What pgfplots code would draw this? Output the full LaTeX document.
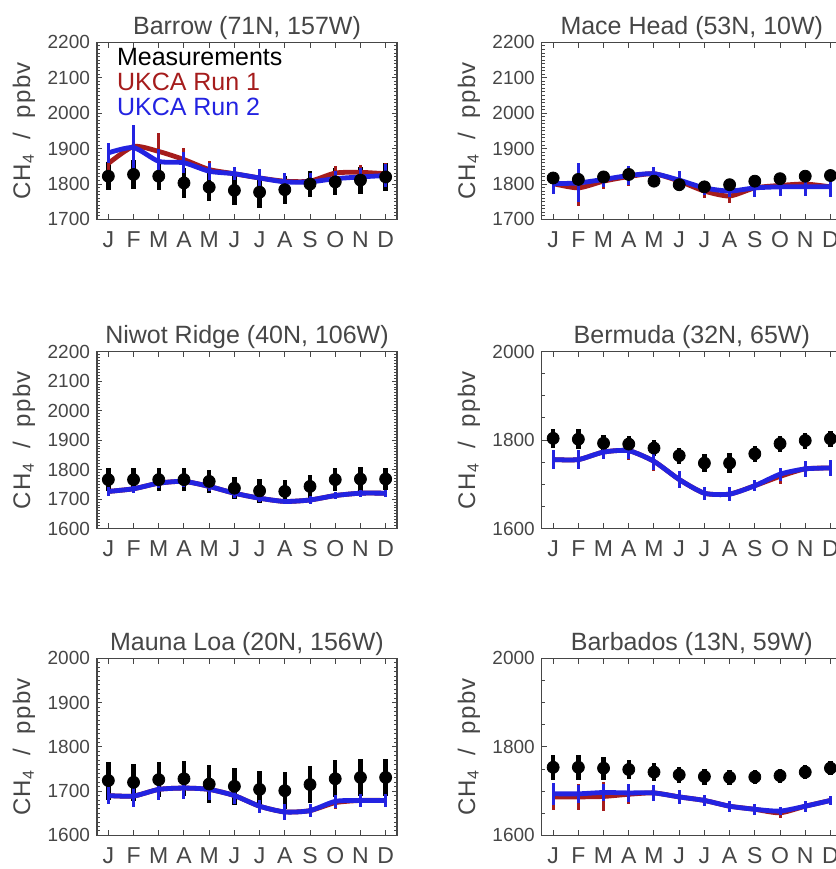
\documentclass[border=0pt]{standalone}
\usepackage{fontspec}
\setmainfont{Liberation Sans}
\usepackage{pgfplots}
\usepackage{pgfplotstable}
\pgfplotsset{compat=1.18}
\definecolor{ukred}{RGB}{165,28,28}
\definecolor{ukblue}{RGB}{35,35,225}
\definecolor{axgray}{RGB}{70,70,70}

% monthly CH4 (ppbv): observations, UKCA run 1, UKCA run 2, each with its spread
\pgfplotstableread{
m obs oe r1 r1e r2 r2e
1 1822 40 1858 30 1888 28
2 1827 40 1906 55 1903 65
3 1822 40 1892 52 1864 35
4 1803 42 1869 32 1860 30
5 1791 40 1841 24 1836 24
6 1782 42 1829 18 1829 18
7 1777 44 1817 24 1817 24
8 1784 40 1808 24 1806 24
9 1800 38 1808 24 1806 24
10 1806 38 1831 20 1815 22
11 1811 38 1833 22 1820 24
12 1820 40 1829 30 1824 32
}\barrow
\pgfplotstableread{
m obs oe r1 r1e r2 r2e
1 1817 13 1801 30 1801 30
2 1813 13 1789 50 1803 55
3 1820 13 1808 22 1813 22
4 1827 13 1821 28 1824 28
5 1808 13 1829 20 1829 20
6 1798 13 1808 25 1811 25
7 1792 13 1780 20 1789 20
8 1798 13 1766 20 1780 18
9 1808 13 1789 25 1789 25
10 1815 13 1796 25 1792 25
11 1822 13 1800 25 1792 25
12 1824 13 1792 30 1792 30
}\macehead
\pgfplotstableread{
m obs oe r1 r1e r2 r2e
1 1766 40 1726 15 1726 15
2 1766 38 1735 15 1735 15
3 1766 38 1754 18 1754 18
4 1766 38 1760 18 1760 18
5 1760 38 1743 15 1743 15
6 1737 38 1720 15 1720 15
7 1728 40 1703 12 1703 12
8 1726 40 1692 10 1692 10
9 1743 40 1697 12 1697 12
10 1766 40 1712 12 1712 12
11 1768 40 1720 12 1720 12
12 1768 38 1720 12 1720 12
}\niwot
\pgfplotstableread{
m obs oe r1 r1e r2 r2e
1 1804 22 1756 22 1756 22
2 1802 22 1756 22 1756 22
3 1793 18 1773 15 1773 15
4 1791 18 1776 20 1776 18
5 1782 18 1752 22 1752 20
6 1765 18 1711 20 1711 20
7 1748 20 1680 15 1680 15
8 1748 22 1678 15 1678 15
9 1769 18 1697 12 1697 12
10 1792 18 1718 18 1723 15
11 1799 18 1735 18 1735 18
12 1803 18 1737 18 1737 18
}\bermuda
\pgfplotstableread{
m obs oe r1 r1e r2 r2e
1 1724 43 1690 20 1690 20
2 1720 42 1689 25 1689 25
3 1726 40 1704 25 1704 25
4 1728 40 1707 25 1707 25
5 1716 42 1704 25 1704 25
6 1711 42 1690 18 1690 18
7 1704 42 1666 15 1666 15
8 1701 42 1653 18 1653 18
9 1715 42 1656 15 1656 15
10 1728 42 1674 15 1677 15
11 1731 42 1679 15 1679 15
12 1731 42 1679 15 1679 15
}\maunaloa
\pgfplotstableread{
m obs oe r1 r1e r2 r2e
1 1754 28 1687 30 1694 25
2 1754 28 1687 30 1694 20
3 1752 26 1688 32 1697 20
4 1749 22 1693 22 1696 20
5 1743 20 1696 18 1696 18
6 1737 18 1687 15 1687 15
7 1733 18 1679 12 1679 12
8 1731 16 1666 12 1666 12
9 1732 16 1659 12 1659 12
10 1735 16 1651 12 1655 10
11 1743 16 1666 12 1666 12
12 1752 16 1679 10 1679 10
}\barbados

\pgfplotsset{
  panel/.style={
    scale only axis, width=150pt, height=88.5pt, anchor=north west, clip=false,
    xmin=0.55, xmax=12.45, xtick={1,...,12},
    xticklabels={J,F,M,A,M,J,J,A,S,O,N,D},
    tick align=inside, major tick length=2.6pt, minor tick length=1.4pt,
    axis line style={axgray,line width=0.6pt},
    every tick/.style={axgray,line width=0.5pt},
    xticklabel style={font=\fontsize{11.5}{12}\selectfont,text=axgray,yshift=-2.5pt},
    yticklabel style={font=\fontsize{9.5}{10}\selectfont,text=axgray},
    /pgf/number format/1000 sep={},
    /pgf/number format/assume math mode=true,
  },
  obs/.style={only marks, mark=*, mark size=3pt, black,
    error bars/.cd, y dir=both, y explicit, error mark=none,
    error bar style={line width=2.2pt,black}},
  run1/.style={ukred, line width=2.4pt, smooth, tension=0.4, no markers,
    error bars/.cd, y dir=both, y explicit, error mark=none,
    error bar style={line width=1.5pt,ukred}},
  run2/.style={ukblue, line width=2.4pt, smooth, tension=0.4, no markers,
    error bars/.cd, y dir=both, y explicit, error mark=none,
    error bar style={line width=1.5pt,ukblue}},
}

% #1,#2 top-left corner of the box, #3 table, #4 title, #5 ymin, #6 ymax, #7 more options
\newcommand{\panel}[7]{%
  \begin{axis}[panel, at={(#1,#2)}, ymin=#5, ymax=#6, #7]
    \addplot[obs] table[x=m,y=obs,y error=oe] {#3};
    \addplot[run1] table[x=m,y=r1,y error=r1e] {#3};
    \addplot[run2] table[x=m,y=r2,y error=r2e] {#3};
    \node[anchor=base,font=\fontsize{12.5}{13}\selectfont,text=axgray]
      at ([yshift=4.2pt]rel axis cs:0.5,1) {#4};
    \node[rotate=90,font=\fontsize{12}{13}\selectfont\addfontfeature{LetterSpace=6},text=axgray]
      at ([xshift=-36.5pt]rel axis cs:0,0.5)
      {CH\textsubscript{4}\hspace{0.6em}/\hspace{0.6em}ppbv};
  \end{axis}}

\begin{document}
\begin{tikzpicture}
\useasboundingbox (0,0) rectangle (418pt,-434.5pt);
\clip (0,0) rectangle (418pt,-434.5pt);

\panel{48.5pt}{-21.2pt}{\barrow}{Barrow (71N, 157W)}{1700}{2200}
  {ytick={1700,1800,...,2200}, minor y tick num=9}
\panel{270.9pt}{-21.2pt}{\macehead}{Mace Head (53N, 10W)}{1700}{2200}
  {ytick={1700,1800,...,2200}, minor y tick num=9}
\panel{48.5pt}{-175.8pt}{\niwot}{Niwot Ridge (40N, 106W)}{1600}{2200}
  {ytick={1600,1700,...,2200}, minor y tick num=9}
\panel{270.9pt}{-175.8pt}{\bermuda}{Bermuda (32N, 65W)}{1600}{2000}
  {ytick={1600,1800,2000}, minor y tick num=3}
\panel{48.5pt}{-329.2pt}{\maunaloa}{Mauna Loa (20N, 156W)}{1600}{2000}
  {ytick={1600,1700,...,2000}, minor y tick num=9}
\panel{270.9pt}{-329.2pt}{\barbados}{Barbados (13N, 59W)}{1600}{2000}
  {ytick={1600,1800,2000}, minor y tick num=3}

\begin{scope}[font=\fontsize{12.5}{13}\selectfont]
  \node[anchor=base west,text=black] at (55pt,-32.7pt) {Measurements};
  \node[anchor=base west,text=ukred] at (55pt,-45.2pt) {UKCA Run 1};
  \node[anchor=base west,text=ukblue] at (55pt,-57.7pt) {UKCA Run 2};
\end{scope}
\end{tikzpicture}
\end{document}
